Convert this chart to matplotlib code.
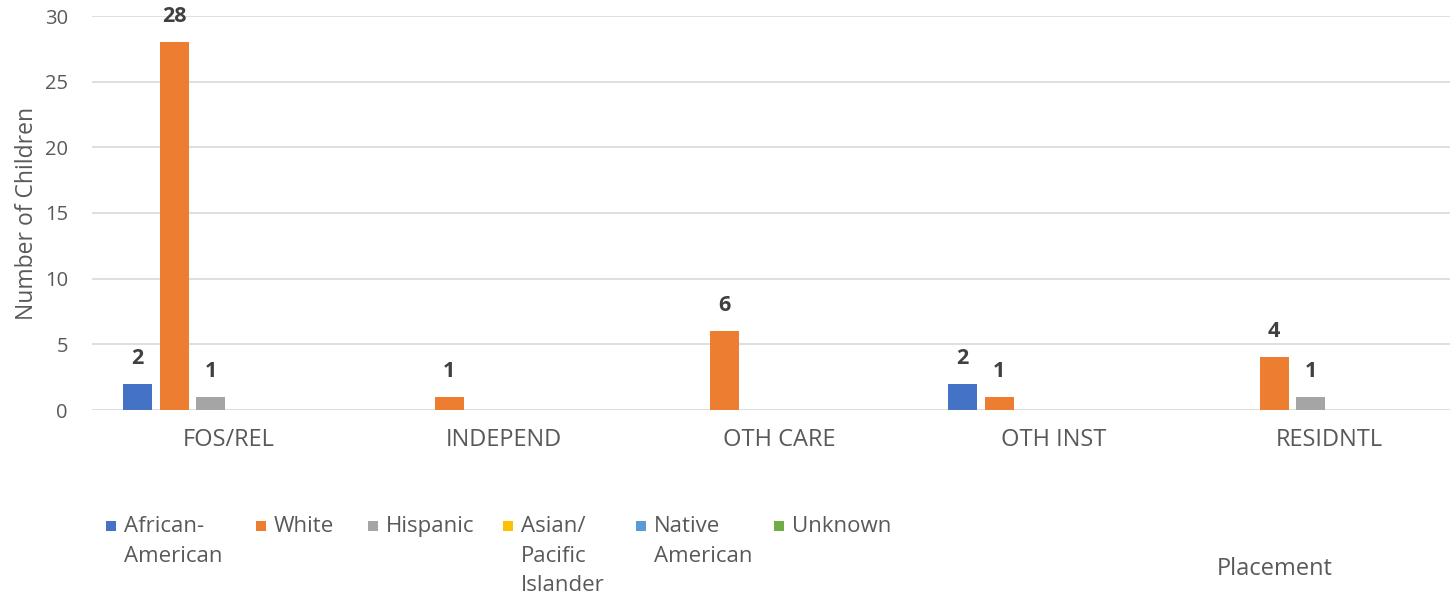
import matplotlib
matplotlib.use('Agg')
import matplotlib.pyplot as plt
from matplotlib.patches import Rectangle
import numpy as np

plt.rcParams['font.family'] = ['Open Sans', 'DejaVu Sans']

placements = ['FOS/REL', 'INDEPEND', 'OTH CARE', 'OTH INST', 'RESIDNTL']
series = ['African-\nAmerican', 'White', 'Hispanic', 'Asian/\nPacific\nIslander',
          'Native\nAmerican', 'Unknown']
african_american = [2, 0, 0, 2, 0]
white = [28, 1, 6, 1, 4]
hispanic = [1, 0, 0, 0, 1]
asian_pacific = [0, 0, 0, 0, 0]
native_american = [0, 0, 0, 0, 0]
unknown = [0, 0, 0, 0, 0]
values = [african_american, white, hispanic, asian_pacific, native_american, unknown]
colors = ['#4472C4', '#ED7D31', '#A5A5A5', '#FFC000', '#5B9BD5', '#70AD47']

W, H = 1450, 595
fig = plt.figure(figsize=(14.5, 5.95), dpi=100)
# plot area runs slightly past the right edge, like the original
ax = fig.add_axes([91.5 / W, 1 - 410 / H, 1375 / W, 394 / H])

x = np.arange(len(placements))
step = 0.1327
width = 0.105
for i, (vals, c) in enumerate(zip(values, colors)):
    pos = x + (i - 2.5) * step
    ax.bar(pos, vals, width=width, color=c, linewidth=0, zorder=3)
    for px, v in zip(pos, vals):
        if v > 0:
            ax.annotate(str(v), (px, v), xytext=(0, 18.5), textcoords='offset points',
                        ha='center', va='center', fontsize=15.5, fontweight='bold',
                        color='#404040')

ax.set_xlim(-0.5, len(placements) - 0.5)
ax.set_ylim(0, 30)
ax.set_yticks(range(0, 31, 5))
ax.set_xticks(x)
ax.set_xticklabels(placements)
ax.tick_params(axis='both', length=0, colors='#595959')
ax.tick_params(axis='x', pad=13, labelsize=17)
ax.tick_params(axis='y', pad=17, labelsize=14.5)
ax.grid(axis='y', color='#D9D9D9', linewidth=1.2, zorder=0)
for s in ax.spines.values():
    s.set_visible(False)
ax.set_ylabel('Number of Children', fontsize=16.5, color='#595959', labelpad=4)

# legend drawn by hand so wrapped names line up under the first line
leg_x = [100, 250, 362, 497, 630, 768]
for lx, lab, c in zip(leg_x, series, colors):
    fig.add_artist(Rectangle(((lx + 6) / W, 1 - 531 / H), 10 / W, 10 / H,
                             transform=fig.transFigure, color=c, linewidth=0))
    for k, line in enumerate(lab.split('\n')):
        fig.text((lx + 24) / W, 1 - (532 + 29.5 * k) / H, line, ha='left',
                 va='baseline', fontsize=16, color='#595959')

fig.text(1275 / W, 1 - 569 / H, 'Placement', ha='center', va='center',
         fontsize=17, color='#595959')

fig.savefig('out.png', dpi=100)
